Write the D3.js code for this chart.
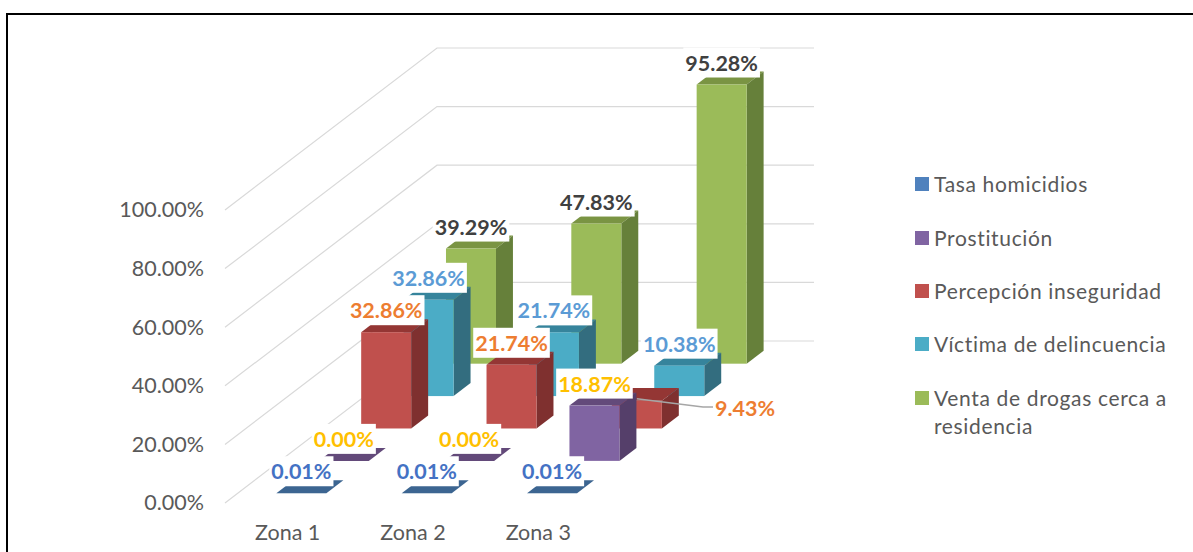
<!DOCTYPE html>
<html>
<head>
<meta charset="utf-8">
<script src="https://cdn.jsdelivr.net/npm/d3@7"></script>
<style>
  html, body { margin: 0; padding: 0; background: #fff; }
  svg { display: block; font-family: Lato, "Open Sans", sans-serif; }
</style>
</head>
<body>
<div id="chart"></div>
<script>
const zones = ["Zona 1", "Zona 2", "Zona 3"];
const seriesNames = ["Tasa homicidios", "Prostitución", "Percepción inseguridad", "Víctima de delincuencia", "Venta de drogas cerca a residencia"];

const homicidios = [0.01, 0.01, 0.01];
const prostitucion = [0, 0, 18.87];
const percepcion = [32.86, 21.74, 9.43];
const victima = [32.86, 21.74, 10.38];
const drogas = [39.29, 47.83, 95.28];
const yTicks = [0, 20, 40, 60, 80, 100];

const allSeries = [homicidios, prostitucion, percepcion, victima, drogas];

// front, side, top, label
const faceColors = [
  ["#4f81bd", "#34587f", "#3c6591", "#4472c4"],
  ["#8064a2", "#553f6a", "#634a7a", "#ffc000"],
  ["#c0504d", "#7f302f", "#943634", "#ed7d31"],
  ["#4bacc6", "#336d7f", "#36849c", "#5b9bd5"],
  ["#9bbb59", "#66803a", "#7a9443", "#404040"]
];
const legendColors = ["#4f81bd", "#8064a2", "#c0504d", "#4bacc6", "#9bbb59"];

const width = 1193, height = 552;
const floorX = 225, floorY = 503;
const depthX = 212, depthY = 162;

const svg = d3.select("#chart").append("svg")
  .attr("width", width).attr("height", height)
  .attr("viewBox", [0, 0, width, height]);

// frame, runs off the right and bottom of the picture
svg.append("rect")
  .attr("x", 7).attr("y", 14).attr("width", 1200).attr("height", 560)
  .attr("fill", "#fff").attr("stroke", "#000").attr("stroke-width", 2);

const x = d3.scaleBand().domain(zones).range([floorX + 1, floorX + 377]);
const y = d3.scaleLinear().domain([0, 100]).range([0, -293]);
// depth runs 0..1 from the front of the floor to the back wall
const depth = d3.scaleBand().domain(d3.range(seriesNames.length)).range([0, 1]);

const barW = 50;
const depthFrac = 0.4 * depth.bandwidth();
const px = (xv, d) => xv + d * depthX;
const py = (d) => floorY - d * depthY;

// gridlines, left wall then back wall
const grid = svg.append("g").attr("fill", "none").attr("stroke", "#d9d9d9").attr("stroke-width", 1.2);
yTicks.forEach(t => {
  grid.append("polyline").attr("points", [
    [px(floorX, 0), py(0) + y(t)],
    [px(floorX, 1), py(1) + y(t)],
    [px(floorX + 377, 1), py(1) + y(t)]
  ].join(" "));
});

const yAxis = svg.append("g")
  .attr("transform", `translate(204,${floorY})`)
  .call(d3.axisLeft(y).tickValues(yTicks).tickSize(0).tickPadding(0).tickFormat(d => d3.format(".2f")(d) + "%"));
yAxis.select(".domain").remove();
yAxis.selectAll("text").attr("font-family", "Lato").attr("font-size", 21.5).attr("fill", "#595959");

const xAxis = svg.append("g")
  .attr("transform", "translate(-1,525)")
  .call(d3.axisBottom(x).tickSize(0).tickPadding(0));
xAxis.select(".domain").remove();
xAxis.selectAll("text").attr("font-family", "Lato").attr("font-size", 21.5).attr("fill", "#595959");

// back row first so the nearer bars overlap it
const bars = svg.append("g");
const barInfo = [];
d3.range(allSeries.length).reverse().forEach(s => {
  const d0 = depth(s) + (depth.bandwidth() - depthFrac) / 2;
  const d1 = d0 + depthFrac;
  const [front, side, top] = faceColors[s];
  zones.forEach((z, i) => {
    const left = x(z) + (x.bandwidth() - barW) / 2;
    const h = y(allSeries[s][i]);
    const xa = px(left, d0), xb = xa + barW;
    const ox = px(left, d1) - xa, oy = py(d1) - py(d0);
    const yb = py(d0), yt = yb + h;
    const g = bars.append("g");
    g.append("polygon").attr("fill", top)
      .attr("points", [[xa, yt], [xb, yt], [xb + ox, yt + oy], [xa + ox, yt + oy]].join(" "));
    g.append("polygon").attr("fill", side)
      .attr("points", [[xb, yb], [xb, yt], [xb + ox, yt + oy], [xb + ox, yb + oy]].join(" "));
    g.append("rect").attr("fill", front)
      .attr("x", xa).attr("y", yt).attr("width", barW).attr("height", Math.max(0, -h));
    barInfo.push({ s, i, cx: xa + barW / 2, top: yt, xa });
  });
});

// data labels on a white box, on top of all bars
const labels = svg.append("g");
const fmt = d => d3.format(".2f")(d) + "%";
barInfo.slice().sort((a, b) => b.s - a.s).forEach(b => {
  const value = allSeries[b.s][b.i];
  const moved = b.s === 2 && b.i === 2; // this one is pulled out with a leader line
  const lx = moved ? 745 : b.cx;
  const ly = moved ? 408 : b.top - 22;
  if (moved) {
    labels.append("polyline")
      .attr("fill", "none").attr("stroke", "#a6a6a6").attr("stroke-width", 1.5)
      .attr("points", [[b.xa + 25, b.top - 2], [703, 407], [713, 407]].join(" "));
  }
  const t = labels.append("text")
    .attr("x", lx).attr("y", ly)
    .attr("text-anchor", "middle").attr("dominant-baseline", "central")
    .attr("font-family", "Lato").attr("font-weight", 700).attr("font-size", 21.5)
    .attr("fill", faceColors[b.s][3])
    .text(fmt(value));
  if (!moved) {
    const w = t.node().getComputedTextLength() + 4;
    labels.insert("rect", "text:last-child")
      .attr("x", lx - w / 2).attr("y", ly - 15).attr("width", w).attr("height", 30)
      .attr("fill", "#fff");
  }
});

// legend
const legendY = [184, 238, 291, 344, 398];
const legendLines = [["Tasa homicidios"], ["Prostitución"], ["Percepción inseguridad"], ["Víctima de delincuencia"], ["Venta de drogas cerca a", "residencia"]];
const legend = svg.append("g");
seriesNames.forEach((name, i) => {
  legend.append("rect")
    .attr("x", 915).attr("y", legendY[i] - 7).attr("width", 14).attr("height", 14)
    .attr("fill", legendColors[i]);
  legendLines[i].forEach((line, j) => {
    legend.append("text")
      .attr("x", 934).attr("y", legendY[i] - 1 + j * 28)
      .attr("dominant-baseline", "central")
      .attr("font-family", "Lato").attr("font-size", 21).attr("letter-spacing", 0.65).attr("fill", "#595959")
      .text(line);
  });
});
</script>
</body>
</html>
